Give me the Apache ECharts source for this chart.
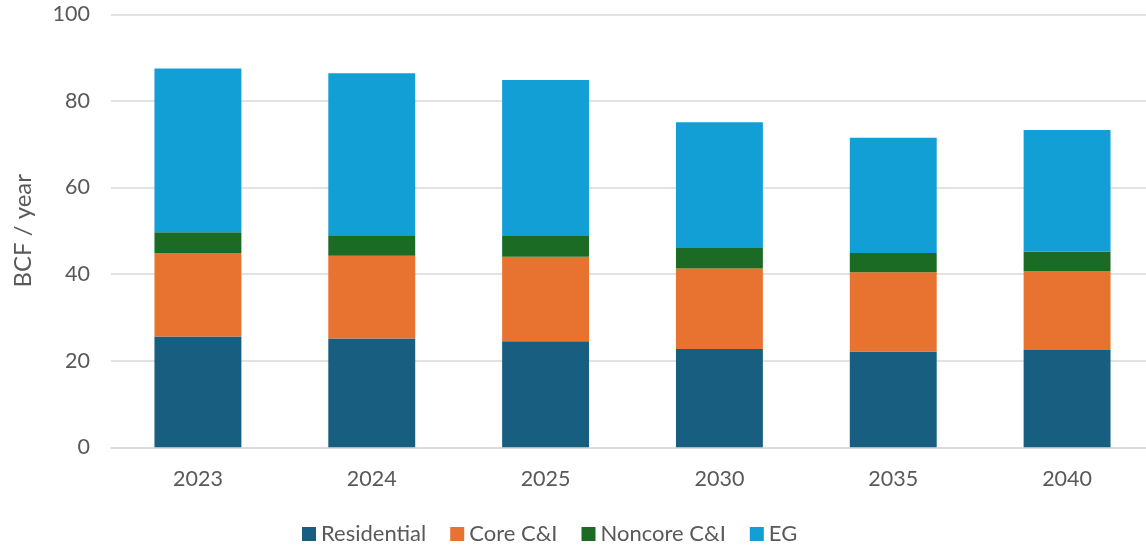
<!DOCTYPE html>
<html>
<head>
<meta charset="utf-8">
<script src="https://cdn.jsdelivr.net/npm/echarts@6/dist/echarts.min.js"></script>
<style>
  html, body { margin: 0; padding: 0; background: #fff; }
  #chart { width: 1146px; height: 548px; }
</style>
</head>
<body>
<div id="chart"></div>
<script>
// categories and stacked values (BCF / year)
const years = ["2023", "2024", "2025", "2030", "2035", "2040"];
const residential = [25.6, 25.1, 24.5, 22.7, 22.1, 22.5];
const coreCI = [19.3, 19.15, 19.5, 18.6, 18.3, 18.2];
const noncoreCI = [4.75, 4.75, 4.8, 4.7, 4.5, 4.5];
const eg = [37.85, 37.4, 36.0, 29.05, 26.6, 28.1];
const yTicks = [0, 20, 40, 60, 80, 100];

const font = "Lato, 'Open Sans', sans-serif";
const textColor = "#595959";

function bar(name, data, color) {
  return {
    name: name,
    type: "bar",
    stack: "total",
    barWidth: "50%",
    itemStyle: { color: color },
    data: data
  };
}

const chart = echarts.init(document.getElementById("chart"));
chart.setOption({
  backgroundColor: "#fff",
  animation: false,
  textStyle: { fontFamily: font },
  grid: {
    left: 111, width: 1043, top: 14.3, bottom: 100.7,
    containLabel: false,
    outerBoundsMode: "none"
  },
  legend: {
    left: 297,
    top: 518,
    icon: "rect",
    itemWidth: 14,
    itemHeight: 14,
    itemGap: 24,
    textStyle: { fontFamily: font, fontSize: 22, color: textColor },
    data: ["Residential", "Core C&I", "Noncore C&I", "EG"]
  },
  xAxis: {
    type: "category",
    data: years,
    axisTick: { show: false },
    axisLine: { lineStyle: { color: "#d9d9d9", width: 1.5 } },
    axisLabel: { fontSize: 21.5, color: textColor, margin: 21 }
  },
  yAxis: {
    type: "value",
    min: yTicks[0],
    max: yTicks[yTicks.length - 1],
    interval: 20,
    name: "BCF / year",
    nameLocation: "middle",
    nameGap: 76,
    nameTextStyle: { fontSize: 24, color: textColor },
    axisLine: { show: false },
    axisTick: { show: false },
    axisLabel: { fontSize: 21.5, color: textColor, margin: 21 },
    splitLine: { lineStyle: { color: "#d9d9d9", width: 1.5 } }
  },
  series: [
    bar("Residential", residential, "#175E80"),
    bar("Core C&I", coreCI, "#E87330"),
    bar("Noncore C&I", noncoreCI, "#1B6B25"),
    bar("EG", eg, "#119FD6")
  ]
});
</script>
</body>
</html>
